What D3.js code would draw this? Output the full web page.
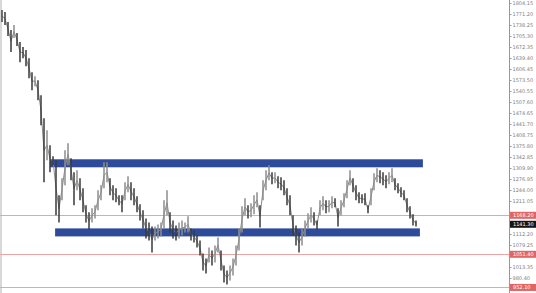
<!DOCTYPE html>
<html><head><meta charset="utf-8">
<script src="https://cdn.jsdelivr.net/npm/d3@7/dist/d3.min.js"></script>
<style>html,body{margin:0;padding:0;background:#fff;}svg{display:block;}</style>
</head><body>
<svg id="chart" width="536" height="293"></svg>
<script>
// bar highs / lows (price units), one per bar
const highs = [1783,1777,1747,1723,1738,1714,1687,1672,1663,1639,1597,1585,1573,1528,1459,1423,1378,1345,1333,1228,
1279,1363,1384,1339,1297,1303,1279,1249,1198,1177,1189,1198,1243,1258,1327,1327,1279,1258,1249,1228,
1228,1267,1285,1267,1249,1225,1201,1183,1159,1147,1135,1135,1141,1147,1213,1243,1177,1153,1138,1147,
1153,1147,1165,1129,1123,1108,1093,1054,1039,1072,1063,1078,1102,1063,1018,1003,1018,1039,1078,1129,
1195,1219,1198,1204,1228,1237,1198,1273,1303,1318,1297,1297,1285,1282,1273,1249,1228,1168,1138,1117,
1129,1153,1174,1192,1177,1153,1213,1225,1213,1213,1225,1219,1189,1213,1234,1273,1303,1279,1258,1237,
1231,1234,1198,1249,1294,1309,1303,1297,1288,1297,1309,1279,1264,1252,1243,1219,1195,1171,1153];
const lows = [1747,1738,1705,1657,1699,1675,1627,1639,1615,1579,1543,1555,1513,1438,1267,1333,1297,1318,1168,1147,
1213,1258,1318,1273,1198,1243,1213,1177,1147,1126,1147,1159,1183,1213,1249,1267,1228,1213,1207,1198,
1177,1213,1237,1213,1198,1177,1153,1129,1099,1093,1057,1093,1099,1105,1129,1168,1117,1099,1093,1099,
1108,1117,1117,1093,1087,1072,1048,1003,994,1027,1018,1027,1057,1003,967,961,973,988,1018,1063,
1117,1168,1159,1162,1171,1192,1132,1213,1243,1273,1261,1264,1249,1243,1228,1198,1168,1108,1078,1057,
1078,1105,1129,1147,1138,1126,1168,1183,1174,1177,1189,1192,1135,1168,1192,1219,1258,1237,1213,1204,
1204,1198,1174,1198,1243,1267,1264,1258,1249,1261,1267,1243,1234,1222,1213,1177,1159,1138,1135];
const currentPrice = 1141.30;
// horizontal price levels
const levelLines = [1168.20, 1051.40, 952.10];
// zones: [fromBar, toBar, upperPrice, lowerPrice]
const zoneStart = [16, 17.7];
const zoneEnd = [140.3, 139.3];
const zoneTop = [1336, 1129];
const zoneBottom = [1312, 1105];
// axis tick labels
const tickLabels = ["1804.15","1771.20","1738.25","1705.30","1672.35","1639.40","1606.45","1573.50","1540.55","1507.60",
"1474.65","1441.70","1408.75","1375.80","1342.85","1309.90","1276.95","1244.00","1211.05","1178.10",
"1145.15","1112.20","1079.25","1046.30","1013.35","980.40","947.45"];

const svg = d3.select("#chart");
const W = 536, H = 293, axisX = 509;
const x = d3.scaleLinear().domain([0, 169]).range([2, axisX]);
const tickVals = tickLabels.map(Number);
const y = d3.scaleLinear().domain([tickVals[0], tickVals[tickVals.length-1]]).range([3, 289]);

// left border strip
svg.append("rect").attr("x",0).attr("y",0).attr("width",2).attr("height",H).attr("fill","#d8d8d8");

// level lines
svg.selectAll(".lvl").data(levelLines).enter().append("line")
  .attr("x1",0).attr("x2",axisX).attr("y1",d=>Math.round(y(d))+0.5).attr("y2",d=>Math.round(y(d))+0.5)
  .attr("stroke","#eaa4a4").attr("stroke-width",1);

// zones
svg.selectAll(".zone").data(zoneStart).enter().append("rect")
  .attr("x",(d,i)=>x(d)).attr("width",(d,i)=>x(zoneEnd[i])-x(d))
  .attr("y",(d,i)=>y(zoneTop[i])).attr("height",(d,i)=>y(zoneBottom[i])-y(zoneTop[i]))
  .attr("fill","#2e4b9b");

// connecting trace through bar midpoints
const line = d3.line().x((d,i)=>x(i)).y((d,i)=>y((d+lows[i])/2));
svg.append("path").datum(highs).attr("d",line).attr("fill","none").attr("stroke","#8a8a8a").attr("stroke-width",1);
// bars
svg.selectAll(".bar").data(highs).enter().append("line")
  .attr("x1",(d,i)=>x(i)).attr("x2",(d,i)=>x(i))
  .attr("y1",d=>y(d)).attr("y2",(d,i)=>y(lows[i]))
  .attr("stroke",(d,i)=>{ if(i===0) return "#444"; const m=(d+lows[i])/2, pm=(highs[i-1]+lows[i-1])/2; return m>=pm?"#8c8c8c":"#3a3a3a";})
  .attr("stroke-width",1.5);

// right axis
svg.append("line").attr("x1",axisX+0.5).attr("x2",axisX+0.5).attr("y1",0).attr("y2",H).attr("stroke","#999");
const tags = levelLines.map(v=>({v, c:"#e06666"})).concat([{v:currentPrice, c:"#151515"}]);
const visibleTicks = tickVals.filter(t => tags.every(g => Math.abs(y(g.v)-y(t)) > 6.5));
const axis = d3.axisRight(y).tickValues(visibleTicks).tickSize(2).tickFormat(d=>tickLabels[tickVals.indexOf(d)]);
const ag = svg.append("g").attr("transform",`translate(${axisX+0.5},0)`).call(axis);
ag.select(".domain").remove();
ag.selectAll("line").attr("stroke","#999");
ag.selectAll("text").attr("font-family","DejaVu Sans").attr("font-size","5px").attr("fill","#808080").attr("x",3);

// price labels
const tg = svg.selectAll(".tag").data(tags).enter().append("g").attr("transform",d=>`translate(${axisX+1},${y(d.v)})`);
tg.append("rect").attr("x",0).attr("y",-3.5).attr("width",W-axisX-1).attr("height",7).attr("fill",d=>d.c);
tg.append("text").attr("x",3).attr("dy","0.32em").attr("font-family","DejaVu Sans").attr("font-size","5px").attr("fill","#fff").text(d=>d.v.toFixed(2));
</script>
</body></html>
